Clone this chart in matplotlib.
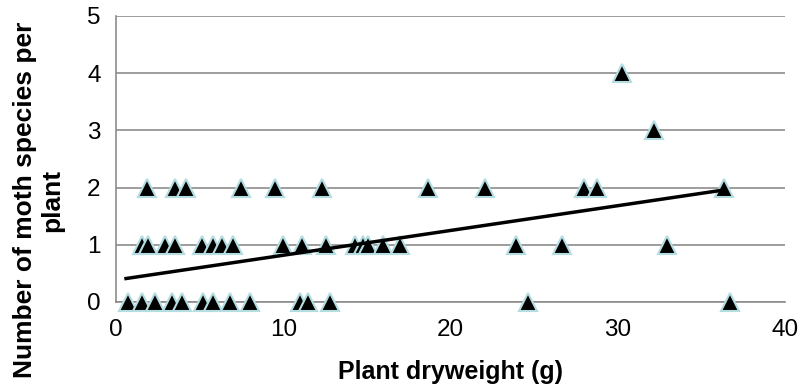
import numpy as np
import matplotlib.pyplot as plt

plt.rcParams['font.family'] = ['Liberation Sans', 'DejaVu Sans']

# plant dry weight (g) grouped by number of moth species
x_zero = [0.72, 1.55, 2.33, 3.35, 3.95, 5.2, 5.8, 6.8, 8.0, 11.0, 11.5, 12.8, 24.65, 36.7]
x_one = [1.53, 1.93, 2.93, 3.53, 5.12, 5.82, 6.32, 7.01, 9.97, 11.10, 12.56,
         14.29, 14.79, 15.09, 15.95, 16.98, 23.92, 26.69, 32.96]
x_two = [1.84, 3.52, 4.19, 7.47, 9.5, 12.3, 18.65, 22.06, 27.98, 28.76, 36.35]
x_three = [32.17]
x_four = [30.24]

xs = x_zero + x_one + x_two + x_three + x_four
ys = [0] * len(x_zero) + [1] * len(x_one) + [2] * len(x_two) + [3] * len(x_three) + [4] * len(x_four)

# linear trend line end points
trend_x = [0.6, 36.4]
trend_y = [0.41, 1.96]

fig = plt.figure(figsize=(8, 3.89), dpi=100)
ax = fig.add_axes([0.145, 0.2237, 0.836, 0.7352])

ax.set_xlim(0, 40)
ax.set_ylim(0, 5)
ax.set_xticks([0, 10, 20, 30, 40])
ax.set_yticks([0, 1, 2, 3, 4, 5])
ax.yaxis.grid(True, color='#8c8c8c', lw=1.2)
ax.set_axisbelow(True)
for s in ['top', 'right']:
    ax.spines[s].set_visible(False)
ax.spines['left'].set_color('#8c8c8c')
ax.spines['left'].set_linewidth(1.2)
ax.spines['bottom'].set_color('#8c8c8c')
ax.spines['bottom'].set_linewidth(1.2)
ax.tick_params(length=0, labelsize=17.5)
ax.tick_params(axis='y', pad=11)
ax.tick_params(axis='x', pad=12)

ax.plot(xs, ys, '^', ms=13, color='black', mec='#b4dde2', mew=1.5,
        clip_on=False, zorder=3)
ax.plot(trend_x, trend_y, color='black', lw=2.5, zorder=4)

fig.text(450 / 800, 1 - 372 / 389, 'Plant dryweight (g)', fontsize=18,
         fontweight='bold', ha='center', va='center')
fig.text(38.5 / 800, 1 - 200 / 389, 'Number of moth species per\nplant',
         fontsize=19, fontweight='bold', ha='center', va='center',
         rotation=90, linespacing=1.15)

fig.savefig('out.png', dpi=100)
